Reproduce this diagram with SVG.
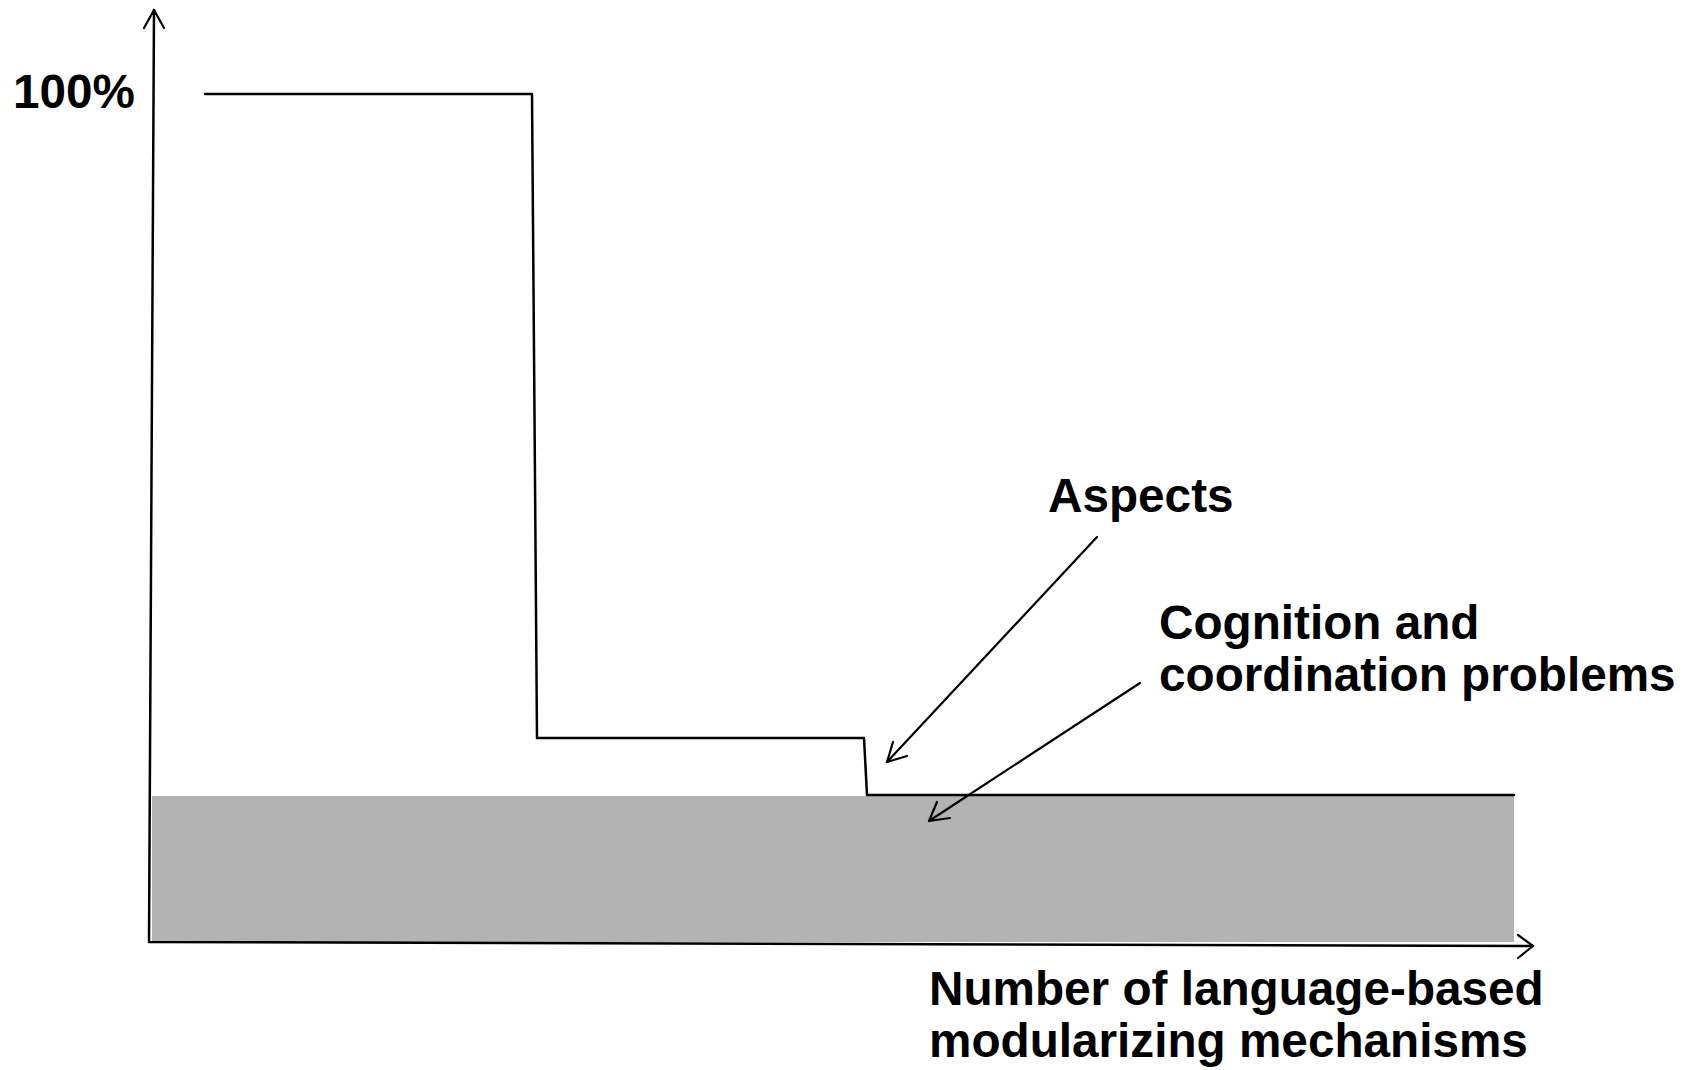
<svg xmlns="http://www.w3.org/2000/svg" width="1690" height="1070" viewBox="0 0 1690 1070">
<style>
.lbl{font-family:"Liberation Sans",Arial,sans-serif;font-weight:bold;font-size:47.7px;fill:#000}
.ln{fill:none;stroke:#000;stroke-width:2.5;stroke-linecap:round;stroke-linejoin:round}
.ar{fill:none;stroke:#000;stroke-width:2.2;stroke-linecap:round;stroke-linejoin:round}
</style>
<rect width="1690" height="1070" fill="#fff"/>
<g id="band">
<rect x="152" y="796" width="1362" height="146" fill="#b3b3b3"/>
</g>
<g id="axes">
<path class="ln" d="M154,10 L149,942 L1533,946"/>
<path class="ar" d="M144,28 L154,10 L164,28"/>
<path class="ar" d="M1518,935 L1533,946 L1518,958"/>
</g>
<g id="curve">
<path class="ln" d="M205,94 L532,94 L537,738 L864,738 L867,795 L1514,795"/>
</g>
<g id="labels">
<text id="y-label" class="lbl" x="13" y="108" font-size="46">100%</text>
<text id="aspects" class="lbl" x="1048" y="512">Aspects</text>
<text id="cognition" class="lbl"><tspan x="1159" y="639">Cognition and</tspan><tspan x="1159" y="691">coordination problems</tspan></text>
<text id="x-label" class="lbl"><tspan x="929" y="1005">Number of language-based</tspan><tspan x="929" y="1057">modularizing mechanisms</tspan></text>
</g>
<g id="connectors">
<path class="ar" d="M1097,537 L887,762"/>
<path class="ar" d="M893,742 L887,762 L907,756"/>
<path class="ar" d="M1140,683 L929,821"/>
<path class="ar" d="M937,802 L929,821 L950,818"/>
</g>
</svg>
